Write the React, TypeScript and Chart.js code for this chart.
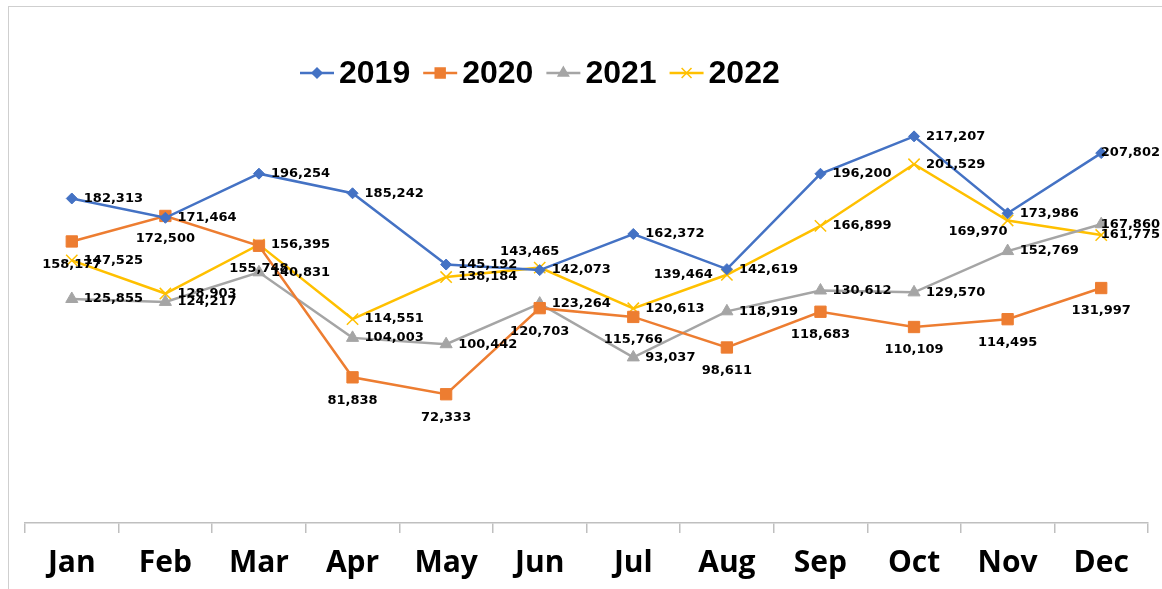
import React, { useEffect, useRef } from 'react';
import { Chart, registerables } from 'chart.js';
import { drawPoint } from 'chart.js/helpers';

Chart.register(...registerables);

const months = ['Jan', 'Feb', 'Mar', 'Apr', 'May', 'Jun', 'Jul', 'Aug', 'Sep', 'Oct', 'Nov', 'Dec'];
const seriesNames = ['2019', '2020', '2021', '2022'];
const values2019 = [182313, 171464, 196254, 185242, 145192, 142073, 162372, 142619, 196200, 217207, 173986, 207802];
const values2020 = [158177, 172500, 155748, 81838, 72333, 120703, 115766, 98611, 118683, 110109, 114495, 131997];
const values2021 = [125855, 124217, 140831, 104003, 100442, 123264, 93037, 118919, 130612, 129570, 152769, 167860];
const values2022 = [147525, 128903, 156395, 114551, 138184, 143465, 120613, 139464, 166899, 201529, 169970, 161775];
const yMin = 0;
const yMax = 250000;

// styles
const colors = ['#4472C4', '#ED7D31', '#A5A5A5', '#FFC000'];
const pointStyles = ['rectRot', 'rect', 'triangle', 'crossRot'];
const pointRadii = [5.5, 8, 7, 8];
const legendRadii = [5, 7, 6, 7];
const allRight = months.map(() => 'right');
const allBelow = months.map(() => 'below');
const labelPositions = [
  allRight,
  allBelow,
  allRight,
  ['right', 'right', 'right', 'right', 'right', 'above', 'right', 'left', 'right', 'right', 'leftBelow', 'right'],
];

const fmt = (v: number) => v.toLocaleString('en-US');

const labelPlugin = {
  id: 'pointLabels',
  afterDatasetsDraw(chart: any) {
    const ctx = chart.ctx;
    ctx.save();
    ctx.font = 'bold 13px "DejaVu Sans"';
    ctx.fillStyle = '#000';
    ctx.textBaseline = 'middle';
    ctx.textAlign = 'left';
    chart.data.datasets.forEach((ds: any, di: number) => {
      const meta = chart.getDatasetMeta(di);
      meta.data.forEach((pt: any, i: number) => {
        const text = fmt(ds.data[i]);
        const w = ctx.measureText(text).width;
        const pos = labelPositions[di][i];
        let x = pt.x;
        let y = pt.y;
        if (pos === 'right') x += 12;
        else if (pos === 'below') { x -= w / 2; y += 23; }
        else if (pos === 'left') x -= 14 + w;
        else if (pos === 'above') { x -= w / 2 + 10; y -= 16; }
        else if (pos === 'leftBelow') { x -= w; y += 11; }
        if (x + w > chart.width - 2) x = chart.width - 2 - w;
        ctx.fillText(text, x, y);
      });
    });
    ctx.restore();
  },
};

const legendPlugin = {
  id: 'customLegend',
  afterDraw(chart: any) {
    const ctx = chart.ctx;
    ctx.save();
    ctx.font = 'bold 32px "Liberation Sans"';
    ctx.textBaseline = 'middle';
    ctx.textAlign = 'left';
    let x = 291;
    const y = 66;
    seriesNames.forEach((name, i) => {
      ctx.strokeStyle = colors[i];
      ctx.lineWidth = 2.5;
      ctx.beginPath();
      ctx.moveTo(x, y);
      ctx.lineTo(x + 34, y);
      ctx.stroke();
      ctx.fillStyle = colors[i];
      ctx.lineWidth = 1.5;
      drawPoint(ctx, { pointStyle: pointStyles[i] as any, radius: legendRadii[i], rotation: 0, borderWidth: 1.5 }, x + 17, y);
      x += 39;
      ctx.fillStyle = '#000';
      ctx.fillText(name, x, y + 1);
      x += ctx.measureText(name).width + 13;
    });
    ctx.restore();
  },
};

export default function App() {
  const ref = useRef<HTMLCanvasElement>(null);
  useEffect(() => {
    const all = [values2019, values2020, values2021, values2022];
    const chart = new Chart(ref.current as HTMLCanvasElement, {
      type: 'line',
      data: {
        labels: months,
        datasets: seriesNames.map((name, i) => ({
          label: name,
          data: all[i],
          borderColor: colors[i],
          backgroundColor: colors[i],
          borderWidth: 2.5,
          pointStyle: pointStyles[i] as any,
          pointRadius: pointRadii[i],
          pointBorderWidth: i === 3 ? 1.5 : 1,
          pointBackgroundColor: colors[i],
          pointBorderColor: colors[i],
          tension: 0,
        })),
      },
      options: {
        responsive: false,
        animation: false,
        layout: { padding: { top: 71, left: 16, right: 14, bottom: 8 } },
        plugins: { legend: { display: false }, tooltip: { enabled: false } },
        scales: {
          x: {
            offset: true,
            afterFit: (scale: any) => { scale.height = 58; },
            grid: { display: true, drawOnChartArea: false, offset: true, tickLength: 10, color: '#bfbfbf', lineWidth: 1.5 },
            border: { display: true, color: '#bfbfbf', width: 1.5 },
            ticks: { color: '#000', padding: 12, font: { family: '"Open Sans"', size: 30, weight: 'bold' } },
          },
          y: { display: false, min: yMin, max: yMax },
        },
      },
      plugins: [labelPlugin, legendPlugin],
    });
    return () => chart.destroy();
  }, []);
  return (
    <div
      style={{
        position: 'fixed',
        left: 8,
        top: 6,
        width: 1153,
        height: 582,
        borderTop: '1px solid #cfcfcf',
        borderLeft: '1px solid #cfcfcf',
        background: '#fff',
      }}
    >
      <canvas ref={ref} width={1153} height={582} style={{ display: 'block' }} />
    </div>
  );
}
